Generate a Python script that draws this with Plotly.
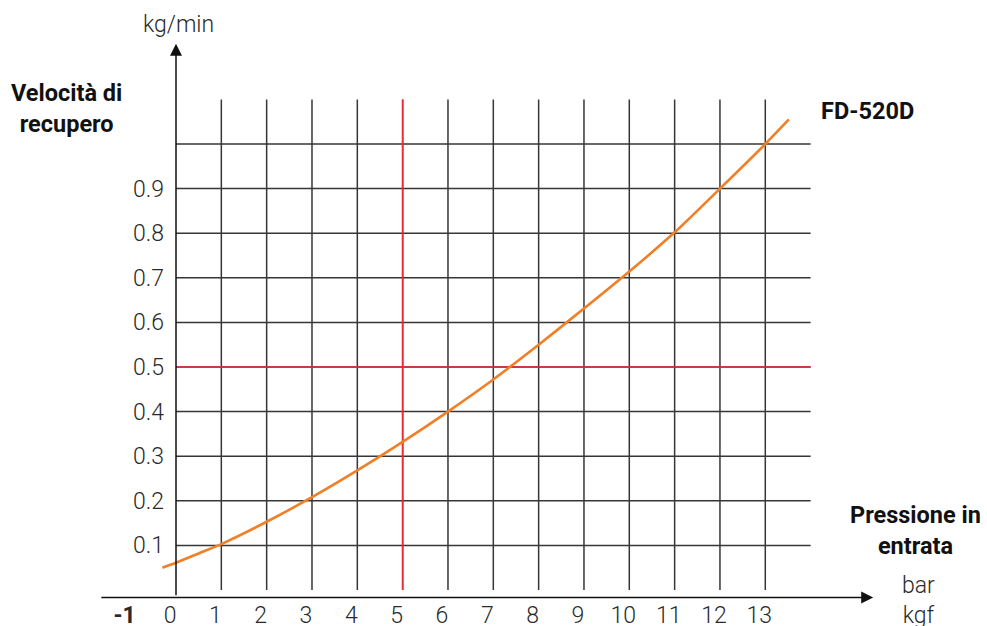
import plotly.graph_objects as go

# ---------------- data ----------------
pressure_bar = [-0.3, 0, 0.5, 1, 2, 3, 4, 5, 6, 7, 8, 9, 10, 11, 12, 13, 13.52]
recovery_kg_min = [0.050, 0.061, 0.082, 0.103, 0.153, 0.208, 0.268, 0.332, 0.400,
                   0.472, 0.550, 0.631, 0.714, 0.802, 0.900, 1.000, 1.055]

x_tick_vals = [-1, 0, 1, 2, 3, 4, 5, 6, 7, 8, 9, 10, 11, 12, 13]
x_tick_text = ["<b>-1</b>", "0", "1", "2", "3", "4", "5", "6", "7", "8", "9", "10", "11", "12", "13"]
y_tick_vals = [0.1, 0.2, 0.3, 0.4, 0.5, 0.6, 0.7, 0.8, 0.9]
y_tick_text = ["0.1", "0.2", "0.3", "0.4", "0.5", "0.6", "0.7", "0.8", "0.9"]

x_grid = [1, 2, 3, 4, 5, 6, 7, 8, 9, 10, 11, 12, 13]
y_grid = [0.1, 0.2, 0.3, 0.4, 0.5, 0.6, 0.7, 0.8, 0.9, 1.0]
grid_x_max = 14
grid_y_max = 1.1
ref_pressure = 5
ref_rate = 0.5

series_name = "FD-520D"

# ---------------- layout geometry ----------------
W, H = 987, 626
X0_PX, X_UNIT = 176.0, 45.33        # pixel of x=0, pixels per bar
Y0_PX, Y_UNIT = 590.0, 446.0        # pixel of y=0, pixels per kg/min

x_range = [-X0_PX / X_UNIT, (W - X0_PX) / X_UNIT]
y_range = [(Y0_PX - H) / Y_UNIT, Y0_PX / Y_UNIT]


def pxx(p):
    return p / W


def pxy(p):
    return 1 - p / H


GRID = "#363636"
RED = "#EE2B36"
ORANGE = "#F07F26"
TXT = "#2a2a2a"
LABEL_SIZE = 23
BOLD_SIZE = 23.5

fig = go.Figure()
fig.add_trace(go.Scatter(
    x=pressure_bar, y=recovery_kg_min, mode="lines", name=series_name,
    line=dict(color=ORANGE, width=2.6, shape="spline", smoothing=0.8),
    showlegend=False, hoverinfo="x+y",
))

shapes = []
for xv in x_grid:
    shapes.append(dict(type="line", xref="x", yref="y", x0=xv, x1=xv, y0=0, y1=grid_y_max,
                       line=dict(color=GRID, width=1.5), layer="below"))
for yv in y_grid:
    shapes.append(dict(type="line", xref="x", yref="y", x0=0, x1=grid_x_max, y0=yv, y1=yv,
                       line=dict(color=GRID, width=1.5), layer="below"))
shapes.append(dict(type="line", xref="x", yref="y", x0=ref_pressure, x1=ref_pressure, y0=0, y1=grid_y_max,
                   line=dict(color=RED, width=1.6), layer="below"))
shapes.append(dict(type="line", xref="x", yref="y", x0=0, x1=grid_x_max, y0=ref_rate, y1=ref_rate,
                   line=dict(color=RED, width=1.6), layer="below"))

annotations = [
    # y axis arrow
    dict(xref="x", yref="y", axref="x", ayref="y", x=0, y=1.225, ax=0, ay=-0.015,
         text="", showarrow=True, arrowhead=2, arrowsize=1.6, arrowwidth=1.5, arrowcolor="#111"),
    # x axis arrow
    dict(xref="x", yref="y", axref="x", ayref="y", x=15.38, y=-0.017, ax=-1.68, ay=-0.017,
         text="", showarrow=True, arrowhead=2, arrowsize=1.6, arrowwidth=1.5, arrowcolor="#111"),
    dict(xref="paper", yref="paper", x=pxx(178), y=pxy(24), text="kg/min", showarrow=False,
         xanchor="center", yanchor="middle",
         font=dict(family="Roboto", size=LABEL_SIZE, color=TXT, weight=300)),
    dict(xref="paper", yref="paper", x=pxx(66), y=pxy(109), text="Velocità di<br>recupero",
         showarrow=False, xanchor="center", yanchor="middle", align="center",
         font=dict(family="Roboto", size=BOLD_SIZE, color="#111", weight=700)),
    dict(xref="paper", yref="paper", x=pxx(819), y=pxy(111), text=series_name,
         showarrow=False, xanchor="left", yanchor="middle",
         font=dict(family="Roboto", size=BOLD_SIZE, color="#111", weight=700)),
    dict(xref="paper", yref="paper", x=pxx(915), y=pxy(530), text="Pressione in<br>entrata",
         showarrow=False, xanchor="center", yanchor="middle", align="center",
         font=dict(family="Roboto", size=BOLD_SIZE, color="#111", weight=700)),
    dict(xref="paper", yref="paper", x=pxx(918), y=pxy(600), text="bar<br>kgf",
         showarrow=False, xanchor="center", yanchor="middle", align="center",
         font=dict(family="Roboto", size=LABEL_SIZE, color=TXT, weight=300)),
]

fig.update_layout(
    width=W, height=H, autosize=False,
    margin=dict(l=0, r=0, t=0, b=0, pad=0, autoexpand=False),
    paper_bgcolor="white", plot_bgcolor="white",
    shapes=shapes, annotations=annotations,
    xaxis=dict(range=x_range, domain=[0, 1], anchor="free", position=pxy(597.7),
               automargin=False,
               showgrid=False, zeroline=False, showline=False, ticks="",
               tickvals=x_tick_vals, ticktext=x_tick_text, ticklabelshift=-6,
               ticklabelstandoff=1,
               tickfont=dict(family="Roboto", size=LABEL_SIZE, color=TXT, weight=300)),
    yaxis=dict(range=y_range, domain=[0, 1], anchor="free", position=pxx(X0_PX),
               automargin=False,
               showgrid=False, zeroline=False, showline=False, ticks="",
               tickvals=y_tick_vals, ticktext=y_tick_text, ticklabelstandoff=12,
               tickfont=dict(family="Roboto", size=LABEL_SIZE, color=TXT, weight=300)),
    showlegend=False,
)

fig.write_html(
    "out.html",
    config={"displayModeBar": False},
    post_script="document.body.style.margin='0';document.body.style.padding='0';"
                "document.body.style.overflow='hidden';",
)
